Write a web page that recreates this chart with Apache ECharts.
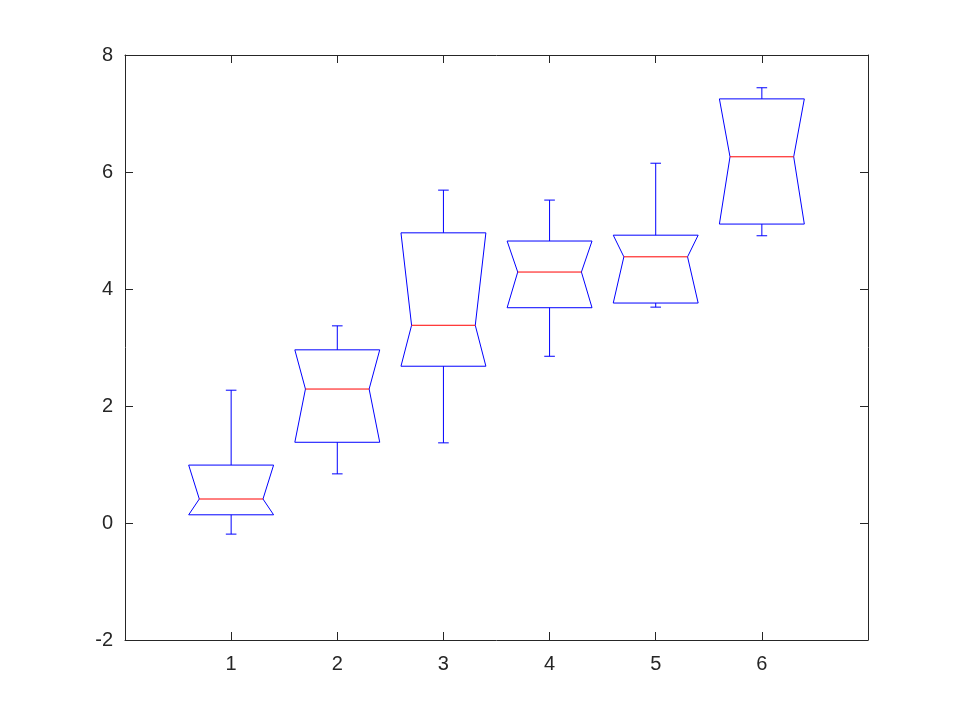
<!DOCTYPE html>
<html><head><meta charset="utf-8">
<script src="https://cdn.jsdelivr.net/npm/echarts@6/dist/echarts.min.js"></script>
<style>html,body{margin:0;padding:0;background:#fff}#c{width:960px;height:720px}</style>
</head><body><div id="c"></div>
<script>
const categories = [1, 2, 3, 4, 5, 6];
const whiskerLow = [-0.19, 0.84, 1.37, 2.85, 3.69, 4.91];
const q1 = [0.14, 1.38, 2.68, 3.68, 3.76, 5.11];
const median = [0.41, 2.29, 3.38, 4.29, 4.55, 6.26];
const q3 = [0.99, 2.96, 4.96, 4.82, 4.92, 7.25];
const whiskerHigh = [2.27, 3.37, 5.69, 5.52, 6.15, 7.44];
const yTicks = [-2, 0, 2, 4, 6, 8];

const data = categories.map((c, i) => [c, whiskerLow[i], q1[i], median[i], q3[i], whiskerHigh[i]]);
const chart = echarts.init(document.getElementById('c'));
const W = 0.4, N = 0.3, C = 0.05;
function renderItem(params, api) {
  const x = api.value(0);
  const p = (dx, y) => api.coord([x + dx, y]);
  const lo = api.value(1), a = api.value(2), m = api.value(3), b = api.value(4), hi = api.value(5);
  const blue = {stroke: '#0000ff', lineWidth: 1, fill: null};
  return {type: 'group', children: [
    {type: 'polygon', shape: {points: [p(-W, b), p(W, b), p(N, m), p(W, a), p(-W, a), p(-N, m)]}, style: blue},
    {type: 'line', shape: {x1: p(0, b)[0], y1: p(0, b)[1], x2: p(0, hi)[0], y2: p(0, hi)[1]}, style: blue},
    {type: 'line', shape: {x1: p(0, a)[0], y1: p(0, a)[1], x2: p(0, lo)[0], y2: p(0, lo)[1]}, style: blue},
    {type: 'line', shape: {x1: p(-C, hi)[0], y1: p(-C, hi)[1], x2: p(C, hi)[0], y2: p(C, hi)[1]}, style: blue},
    {type: 'line', shape: {x1: p(-C, lo)[0], y1: p(-C, lo)[1], x2: p(C, lo)[0], y2: p(C, lo)[1]}, style: blue},
    {type: 'line', shape: {x1: p(-N, m)[0], y1: p(-N, m)[1], x2: p(N, m)[0], y2: p(N, m)[1]}, style: {stroke: '#ff0000', lineWidth: 1}}
  ]};
}
const axLine = {show: true, onZero: false, lineStyle: {color: '#262626', width: 1}};
const tick = {show: true, inside: true, length: 8, lineStyle: {color: '#262626'}, customValues: categories};
const ytick = {show: true, inside: true, length: 8, lineStyle: {color: '#262626'}};
const lbl = {color: '#262626', fontSize: 20, fontFamily: 'Liberation Sans, Arial, sans-serif'};
chart.setOption({
  animation: false,
  grid: {left: 125, right: 92, top: 55, bottom: 80},
  xAxis: [
    {type: 'value', min: 0, max: 7, interval: 1, axisLine: axLine, axisTick: tick, splitLine: {show: false},
     axisLabel: Object.assign({margin: 14, customValues: categories}, lbl)},
    {type: 'value', position: 'top', min: 0, max: 7, interval: 1, axisLine: axLine, axisTick: tick, splitLine: {show: false}, axisLabel: {show: false}}
  ],
  yAxis: [
    {type: 'value', min: -2, max: 8, interval: 2, axisLine: axLine, axisTick: ytick, splitLine: {show: false},
     axisLabel: Object.assign({margin: 12}, lbl)},
    {type: 'value', position: 'right', min: -2, max: 8, interval: 2, axisLine: axLine, axisTick: ytick, splitLine: {show: false}, axisLabel: {show: false}}
  ],
  series: [{type: 'custom', renderItem, data, encode: {x: 0, y: [1, 2, 3, 4, 5]}}]
});
</script></body></html>
